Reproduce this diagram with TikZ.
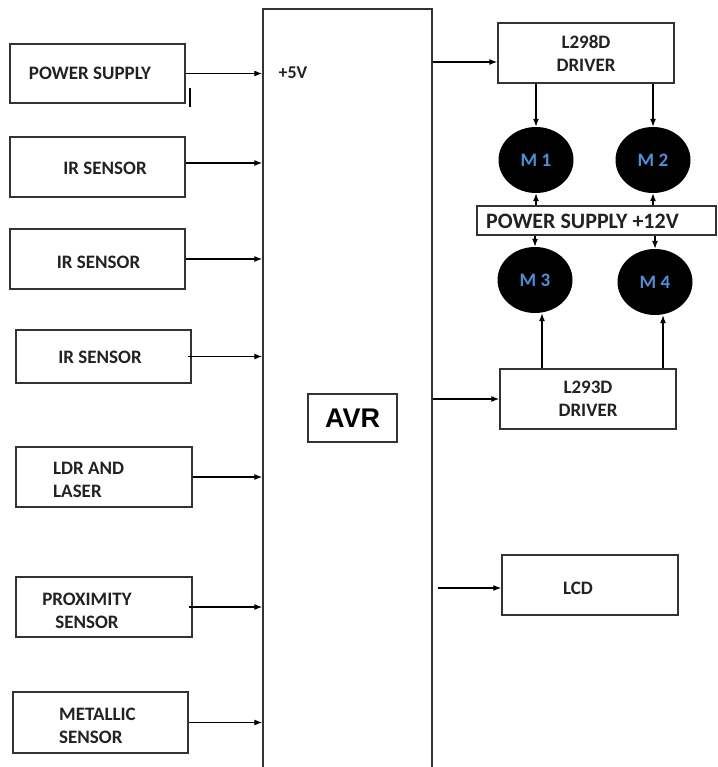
\documentclass[tikz,border=0pt]{standalone}
\usepackage{fontspec}
\setmainfont{Carlito}
\newfontfamily\avrfont{Liberation Sans}
\usetikzlibrary{positioning, arrows.meta, shapes.geometric, calc}
\definecolor{cLine}{HTML}{333333}
\definecolor{cText}{HTML}{222222}
\definecolor{cMotor}{HTML}{4F8FD8}

\begin{document}
\begin{tikzpicture}[
  x=1pt, y=-1pt,
  blkbox/.style={
    draw=cLine, line width=1.4pt, inner sep=0pt,
    minimum width=175pt, minimum height=60pt,
    font=\fontsize{19}{23}\selectfont\bfseries, text=cText, align=center
  },
  blktext/.style={
    font=\fontsize{19}{23}\selectfont\bfseries, text=cText, inner sep=0pt
  },
  motor/.style={
    ellipse, fill=black, inner sep=0pt,
    minimum width=75pt, minimum height=66pt,
    font=\fontsize{19}{22}\selectfont\bfseries, text=cMotor
  },
  sigarrow/.style={-{Latex[length=8pt,width=6pt]}, line width=1.2pt},
]
\useasboundingbox (0,0) rectangle (717,767);
\clip (0,0) rectangle (717,767);

% controller
\node[draw=cLine, line width=1.4pt, inner sep=0pt,
      minimum width=169pt, minimum height=780pt] (avr) at (347.5,399) {};
\node[draw=cLine, line width=1.4pt, inner sep=0pt,
      minimum width=89pt, minimum height=48pt,
      font=\avrfont\fontsize{27}{30}\selectfont\bfseries] (avrlbl) at (352.5,418) {AVR};

% inputs
\node[blkbox, minimum height=59pt] (pwr) at (97.5,73.5) {};
\node[blktext] (pwrtxt) at (90,73) {POWER SUPPLY};
\node[blktext, font=\fontsize{18}{22}\selectfont\bfseries] (v5) at (293,73) {+5V};

\node[blkbox] (ir1) at (97.5,167) {};
\node[blktext] (ir1txt) at (105,168) {IR SENSOR};

\node[blkbox] (ir2) at (97.5,259) {};
\node[blktext] (ir2txt) at (98.5,262) {IR SENSOR};

\node[blkbox, minimum height=53pt] (ir3) at (103.5,356.5) {};
\node[blktext] (ir3txt) at (100,357) {IR SENSOR};

\node[blkbox, minimum width=176pt] (ldr) at (104,477) {};
\node[blktext, anchor=west, align=left] (ldrtxt) at (53,480) {LDR AND\\LASER};

\node[blkbox, minimum width=176pt] (prox) at (104,607) {};
\node[blktext, align=center] (proxtxt) at (87,611) {PROXIMITY\\SENSOR};

\node[blkbox, minimum height=61pt] (metal) at (100.5,722.5) {};
\node[blktext, anchor=west, align=left] (metaltxt) at (59,726) {METALLIC\\SENSOR};

\draw[sigarrow] (pwr.east) -- (pwr.east -| avr.west);
\draw[line width=1.2pt] (190,88) -- (190,107);
\draw[sigarrow] ([yshift=4pt]ir1.east) -- ([yshift=4pt]ir1.east -| avr.west);
\draw[sigarrow] (ir2.east) -- (ir2.east -| avr.west);
\draw[sigarrow] ([xshift=-4pt]ir3.east) -- (ir3.east -| avr.west);
\draw[sigarrow] (ldr.east) -- (ldr.east -| avr.west);
\draw[sigarrow] ([xshift=-4pt]prox.east) -- (prox.east -| avr.west);
\draw[sigarrow] (metal.east) -- (metal.east -| avr.west);

% outputs
\node[blkbox, minimum width=176pt] (l298) at (586,53) {L298D\\DRIVER};
\node[motor] (m1) at (536,160) {M 1};
\node[motor] (m2) at (653,160) {M 2};
\node[blkbox, minimum width=239pt, minimum height=29pt] (ps12) at (596.5,220.5) {};
\node[blktext, font=\fontsize{22}{26}\selectfont\bfseries] (ps12txt) at (582.5,221) {POWER SUPPLY +12V};
\node[motor] (m3) at (535,280) {M 3};
\node[motor] (m4) at (655,282) {M 4};
\node[blkbox, minimum width=176pt] (l293) at (588,399) {L293D\\DRIVER};
\node[blkbox, minimum width=176pt] (lcd) at (590,585) {};
\node[blktext] (lcdtxt) at (578,588) {LCD};

\draw[sigarrow] ($(avr.east |- l298.west)+(0,9)$) -- ($(l298.west)+(0,9)$);
\draw[sigarrow] (avr.east |- l293.west) -- (l293.west);
\draw[sigarrow] ($(avr.east |- lcd.west)+(5,3)$) -- ($(lcd.west)+(0,3)$);

\draw[sigarrow] (l298.south -| m1) -- (m1.north);
\draw[sigarrow] (l298.south -| m2) -- (m2.north);
\draw[sigarrow] (ps12.north -| m1) -- (m1.south);
\draw[sigarrow] (ps12.north -| m2) -- (m2.south);
\draw[sigarrow] (ps12.south -| m3) -- (m3.north);
\draw[sigarrow] (ps12.south -| m4) -- (m4.north);
\draw[sigarrow] ($(l293.north -| m3)+(7,0)$) -- ($(m3.south)+(7,0)$);
\draw[sigarrow] ($(l293.north -| m4)+(8,0)$) -- ($(m4.south)+(8,0)$);

\end{tikzpicture}
\end{document}
